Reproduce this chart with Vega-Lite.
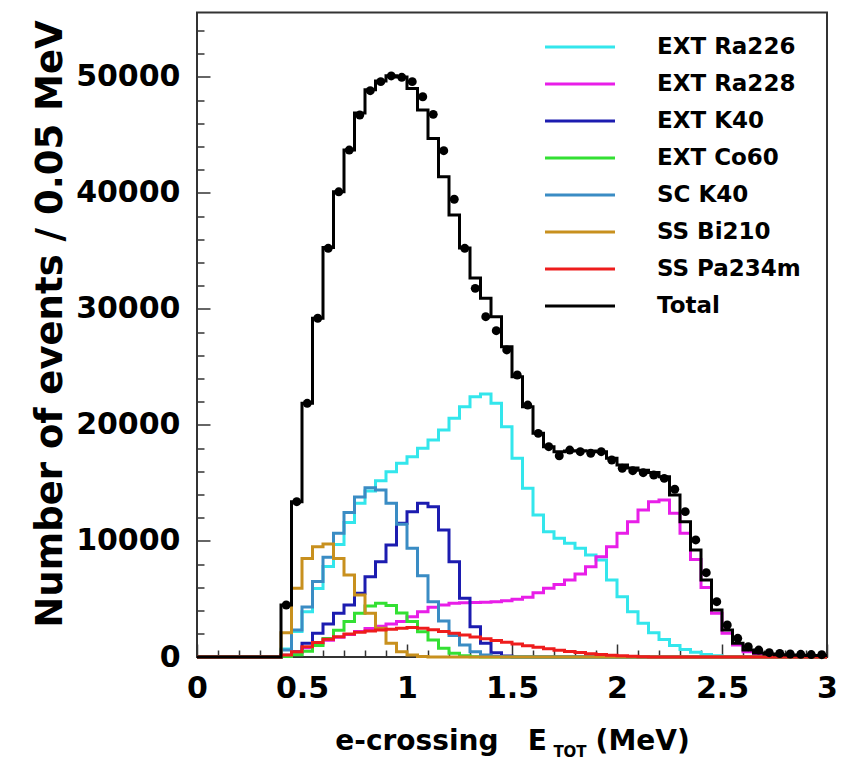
{
  "$schema": "https://vega.github.io/schema/vega-lite/v6.json",
  "width": 630,
  "height": 644.5,
  "autosize": {"type": "none"},
  "padding": {"left": 197, "top": 12.5, "right": 24, "bottom": 104},
  "background": "white",
  "config": {"view": {"stroke": "#333", "strokeWidth": 2}, "font": "DejaVu Sans"},
  "title": {"text": "TOT", "orient": "bottom", "anchor": "middle", "font": "DejaVu Sans", "fontWeight": "bold", "fontSize": 15, "color": "black", "dx": 58, "dy": -10, "offset": 0},
  "datasets": {
    "hist": [
      {"E":0.00,"EXT Ra226":0,"EXT Ra228":0,"EXT K40":0,"EXT Co60":0,"SC K40":0,"SS Bi210":0,"SS Pa234m":0,"Total":0},
      {"E":0.05,"EXT Ra226":0,"EXT Ra228":0,"EXT K40":0,"EXT Co60":0,"SC K40":0,"SS Bi210":0,"SS Pa234m":0,"Total":0},
      {"E":0.10,"EXT Ra226":0,"EXT Ra228":0,"EXT K40":0,"EXT Co60":0,"SC K40":0,"SS Bi210":0,"SS Pa234m":0,"Total":0},
      {"E":0.15,"EXT Ra226":0,"EXT Ra228":0,"EXT K40":0,"EXT Co60":0,"SC K40":0,"SS Bi210":0,"SS Pa234m":0,"Total":0},
      {"E":0.20,"EXT Ra226":0,"EXT Ra228":0,"EXT K40":0,"EXT Co60":0,"SC K40":0,"SS Bi210":0,"SS Pa234m":0,"Total":0},
      {"E":0.25,"EXT Ra226":0,"EXT Ra228":0,"EXT K40":0,"EXT Co60":0,"SC K40":0,"SS Bi210":0,"SS Pa234m":0,"Total":0},
      {"E":0.30,"EXT Ra226":0,"EXT Ra228":0,"EXT K40":0,"EXT Co60":0,"SC K40":0,"SS Bi210":0,"SS Pa234m":0,"Total":0},
      {"E":0.35,"EXT Ra226":0,"EXT Ra228":0,"EXT K40":0,"EXT Co60":0,"SC K40":0,"SS Bi210":0,"SS Pa234m":0,"Total":0},
      {"E":0.40,"EXT Ra226":700,"EXT Ra228":100,"EXT K40":150,"EXT Co60":50,"SC K40":600,"SS Bi210":2100,"SS Pa234m":170,"Total":4480},
      {"E":0.45,"EXT Ra226":2200,"EXT Ra228":400,"EXT K40":460,"EXT Co60":200,"SC K40":2330,"SS Bi210":5920,"SS Pa234m":460,"Total":13390},
      {"E":0.50,"EXT Ra226":3900,"EXT Ra228":800,"EXT K40":1180,"EXT Co60":500,"SC K40":4300,"SS Bi210":8500,"SS Pa234m":890,"Total":21870},
      {"E":0.55,"EXT Ra226":5900,"EXT Ra228":1150,"EXT K40":2040,"EXT Co60":1000,"SC K40":6500,"SS Bi210":9510,"SS Pa234m":1240,"Total":29200},
      {"E":0.60,"EXT Ra226":7800,"EXT Ra228":1450,"EXT K40":2840,"EXT Co60":1600,"SC K40":8600,"SS Bi210":9740,"SS Pa234m":1530,"Total":35300},
      {"E":0.65,"EXT Ra226":9700,"EXT Ra228":1700,"EXT K40":3770,"EXT Co60":2300,"SC K40":10660,"SS Bi210":8500,"SS Pa234m":1750,"Total":40100},
      {"E":0.70,"EXT Ra226":11600,"EXT Ra228":1950,"EXT K40":4480,"EXT Co60":3050,"SC K40":12450,"SS Bi210":7070,"SS Pa234m":1980,"Total":43700},
      {"E":0.75,"EXT Ra226":13250,"EXT Ra228":2200,"EXT K40":5490,"EXT Co60":3770,"SC K40":13800,"SS Bi210":5340,"SS Pa234m":2130,"Total":46900},
      {"E":0.80,"EXT Ra226":14300,"EXT Ra228":2450,"EXT K40":6920,"EXT Co60":4400,"SC K40":14600,"SS Bi210":3770,"SS Pa234m":2240,"Total":48900},
      {"E":0.85,"EXT Ra226":15200,"EXT Ra228":2650,"EXT K40":8220,"EXT Co60":4630,"SC K40":14400,"SS Bi210":2470,"SS Pa234m":2330,"Total":49650},
      {"E":0.90,"EXT Ra226":15970,"EXT Ra228":2850,"EXT K40":9660,"EXT Co60":4450,"SC K40":13250,"SS Bi210":1180,"SS Pa234m":2390,"Total":50100},
      {"E":0.95,"EXT Ra226":16700,"EXT Ra228":3050,"EXT K40":11520,"EXT Co60":3800,"SC K40":11450,"SS Bi210":460,"SS Pa234m":2470,"Total":50000},
      {"E":1.00,"EXT Ra226":17270,"EXT Ra228":3480,"EXT K40":12530,"EXT Co60":3050,"SC K40":9370,"SS Bi210":170,"SS Pa234m":2550,"Total":49000},
      {"E":1.05,"EXT Ra226":17990,"EXT Ra228":3910,"EXT K40":13250,"EXT Co60":2180,"SC K40":7000,"SS Bi210":50,"SS Pa234m":2470,"Total":47150},
      {"E":1.10,"EXT Ra226":18710,"EXT Ra228":4280,"EXT K40":12960,"EXT Co60":1470,"SC K40":4770,"SS Bi210":0,"SS Pa234m":2350,"Total":44700},
      {"E":1.15,"EXT Ra226":19570,"EXT Ra228":4480,"EXT K40":10950,"EXT Co60":750,"SC K40":3100,"SS Bi210":0,"SS Pa234m":2200,"Total":41400},
      {"E":1.20,"EXT Ra226":20580,"EXT Ra228":4630,"EXT K40":8220,"EXT Co60":320,"SC K40":1850,"SS Bi210":0,"SS Pa234m":2050,"Total":38100},
      {"E":1.25,"EXT Ra226":21580,"EXT Ra228":4680,"EXT K40":5060,"EXT Co60":100,"SC K40":1030,"SS Bi210":0,"SS Pa234m":1900,"Total":35250},
      {"E":1.30,"EXT Ra226":22440,"EXT Ra228":4700,"EXT K40":2610,"EXT Co60":20,"SC K40":460,"SS Bi210":0,"SS Pa234m":1730,"Total":32670},
      {"E":1.35,"EXT Ra226":22670,"EXT Ra228":4720,"EXT K40":1180,"EXT Co60":0,"SC K40":170,"SS Bi210":0,"SS Pa234m":1570,"Total":30920},
      {"E":1.40,"EXT Ra226":21870,"EXT Ra228":4770,"EXT K40":370,"EXT Co60":0,"SC K40":50,"SS Bi210":0,"SS Pa234m":1420,"Total":29340},
      {"E":1.45,"EXT Ra226":19850,"EXT Ra228":4850,"EXT K40":80,"EXT Co60":0,"SC K40":0,"SS Bi210":0,"SS Pa234m":1270,"Total":26750},
      {"E":1.50,"EXT Ra226":17130,"EXT Ra228":4970,"EXT K40":0,"EXT Co60":0,"SC K40":0,"SS Bi210":0,"SS Pa234m":1120,"Total":24160},
      {"E":1.55,"EXT Ra226":14540,"EXT Ra228":5150,"EXT K40":0,"EXT Co60":0,"SC K40":0,"SS Bi210":0,"SS Pa234m":980,"Total":21580},
      {"E":1.60,"EXT Ra226":12240,"EXT Ra228":5540,"EXT K40":0,"EXT Co60":0,"SC K40":0,"SS Bi210":0,"SS Pa234m":840,"Total":19280},
      {"E":1.65,"EXT Ra226":10800,"EXT Ra228":5920,"EXT K40":0,"EXT Co60":0,"SC K40":0,"SS Bi210":0,"SS Pa234m":710,"Total":18130},
      {"E":1.70,"EXT Ra226":10230,"EXT Ra228":6260,"EXT K40":0,"EXT Co60":0,"SC K40":0,"SS Bi210":0,"SS Pa234m":590,"Total":17700},
      {"E":1.75,"EXT Ra226":9800,"EXT Ra228":6640,"EXT K40":0,"EXT Co60":0,"SC K40":0,"SS Bi210":0,"SS Pa234m":480,"Total":17750},
      {"E":1.80,"EXT Ra226":9370,"EXT Ra228":7160,"EXT K40":0,"EXT Co60":0,"SC K40":0,"SS Bi210":0,"SS Pa234m":380,"Total":17780},
      {"E":1.85,"EXT Ra226":8790,"EXT Ra228":7780,"EXT K40":0,"EXT Co60":0,"SC K40":0,"SS Bi210":0,"SS Pa234m":290,"Total":17750},
      {"E":1.90,"EXT Ra226":8360,"EXT Ra228":8650,"EXT K40":0,"EXT Co60":0,"SC K40":0,"SS Bi210":0,"SS Pa234m":210,"Total":17700},
      {"E":1.95,"EXT Ra226":6640,"EXT Ra228":9510,"EXT K40":0,"EXT Co60":0,"SC K40":0,"SS Bi210":0,"SS Pa234m":150,"Total":17130},
      {"E":2.00,"EXT Ra226":5200,"EXT Ra228":10660,"EXT K40":0,"EXT Co60":0,"SC K40":0,"SS Bi210":0,"SS Pa234m":100,"Total":16550},
      {"E":2.05,"EXT Ra226":3910,"EXT Ra228":11670,"EXT K40":0,"EXT Co60":0,"SC K40":0,"SS Bi210":0,"SS Pa234m":60,"Total":16300},
      {"E":2.10,"EXT Ra226":2900,"EXT Ra228":12670,"EXT K40":0,"EXT Co60":0,"SC K40":0,"SS Bi210":0,"SS Pa234m":30,"Total":16100},
      {"E":2.15,"EXT Ra226":2100,"EXT Ra228":13390,"EXT K40":0,"EXT Co60":0,"SC K40":0,"SS Bi210":0,"SS Pa234m":10,"Total":15900},
      {"E":2.20,"EXT Ra226":1500,"EXT Ra228":13530,"EXT K40":0,"EXT Co60":0,"SC K40":0,"SS Bi210":0,"SS Pa234m":0,"Total":15540},
      {"E":2.25,"EXT Ra226":1000,"EXT Ra228":12390,"EXT K40":0,"EXT Co60":0,"SC K40":0,"SS Bi210":0,"SS Pa234m":0,"Total":13970},
      {"E":2.30,"EXT Ra226":650,"EXT Ra228":10660,"EXT K40":0,"EXT Co60":0,"SC K40":0,"SS Bi210":0,"SS Pa234m":0,"Total":11660},
      {"E":2.35,"EXT Ra226":400,"EXT Ra228":8400,"EXT K40":0,"EXT Co60":0,"SC K40":0,"SS Bi210":0,"SS Pa234m":0,"Total":9220},
      {"E":2.40,"EXT Ra226":220,"EXT Ra228":6000,"EXT K40":0,"EXT Co60":0,"SC K40":0,"SS Bi210":0,"SS Pa234m":0,"Total":6640},
      {"E":2.45,"EXT Ra226":100,"EXT Ra228":3770,"EXT K40":0,"EXT Co60":0,"SC K40":0,"SS Bi210":0,"SS Pa234m":0,"Total":4050},
      {"E":2.50,"EXT Ra226":30,"EXT Ra228":2040,"EXT K40":0,"EXT Co60":0,"SC K40":0,"SS Bi210":0,"SS Pa234m":0,"Total":2330},
      {"E":2.55,"EXT Ra226":0,"EXT Ra228":1030,"EXT K40":0,"EXT Co60":0,"SC K40":0,"SS Bi210":0,"SS Pa234m":0,"Total":1180},
      {"E":2.60,"EXT Ra226":0,"EXT Ra228":460,"EXT K40":0,"EXT Co60":0,"SC K40":0,"SS Bi210":0,"SS Pa234m":0,"Total":600},
      {"E":2.65,"EXT Ra226":0,"EXT Ra228":150,"EXT K40":0,"EXT Co60":0,"SC K40":0,"SS Bi210":0,"SS Pa234m":0,"Total":350},
      {"E":2.70,"EXT Ra226":0,"EXT Ra228":40,"EXT K40":0,"EXT Co60":0,"SC K40":0,"SS Bi210":0,"SS Pa234m":0,"Total":250},
      {"E":2.75,"EXT Ra226":0,"EXT Ra228":0,"EXT K40":0,"EXT Co60":0,"SC K40":0,"SS Bi210":0,"SS Pa234m":0,"Total":200},
      {"E":2.80,"EXT Ra226":0,"EXT Ra228":0,"EXT K40":0,"EXT Co60":0,"SC K40":0,"SS Bi210":0,"SS Pa234m":0,"Total":170},
      {"E":2.85,"EXT Ra226":0,"EXT Ra228":0,"EXT K40":0,"EXT Co60":0,"SC K40":0,"SS Bi210":0,"SS Pa234m":0,"Total":150},
      {"E":2.90,"EXT Ra226":0,"EXT Ra228":0,"EXT K40":0,"EXT Co60":0,"SC K40":0,"SS Bi210":0,"SS Pa234m":0,"Total":130},
      {"E":2.95,"EXT Ra226":0,"EXT Ra228":0,"EXT K40":0,"EXT Co60":0,"SC K40":0,"SS Bi210":0,"SS Pa234m":0,"Total":120},
      {"E":3.00,"EXT Ra226":0,"EXT Ra228":0,"EXT K40":0,"EXT Co60":0,"SC K40":0,"SS Bi210":0,"SS Pa234m":0,"Total":120}
    ],
    "dots": [
      {"E":0.425,"n":4480},{"E":0.475,"n":13390},{"E":0.525,"n":21870},{"E":0.575,"n":29200},
      {"E":0.625,"n":35230},{"E":0.675,"n":40100},{"E":0.725,"n":43700},{"E":0.775,"n":46720},
      {"E":0.825,"n":48820},{"E":0.875,"n":49600},{"E":0.925,"n":50090},{"E":0.975,"n":49970},
      {"E":1.025,"n":49600},{"E":1.075,"n":48300},{"E":1.125,"n":46780},{"E":1.175,"n":43650},
      {"E":1.225,"n":39460},{"E":1.275,"n":35230},{"E":1.325,"n":31780},{"E":1.375,"n":29340},
      {"E":1.425,"n":28130},{"E":1.475,"n":26470},{"E":1.525,"n":24310},{"E":1.575,"n":21720},
      {"E":1.625,"n":19280},{"E":1.675,"n":18130},{"E":1.725,"n":17350},{"E":1.775,"n":17840},
      {"E":1.825,"n":17700},{"E":1.875,"n":17560},{"E":1.925,"n":17700},{"E":1.975,"n":16980},
      {"E":2.025,"n":16270},{"E":2.075,"n":16060},{"E":2.125,"n":15890},{"E":2.175,"n":15690},
      {"E":2.225,"n":15400},{"E":2.275,"n":14460},{"E":2.325,"n":12530},{"E":2.375,"n":10090},
      {"E":2.425,"n":7270},{"E":2.475,"n":4770},{"E":2.525,"n":2760},{"E":2.575,"n":1610},
      {"E":2.625,"n":890},{"E":2.675,"n":600},{"E":2.725,"n":370},{"E":2.775,"n":300},
      {"E":2.825,"n":260},{"E":2.875,"n":230},{"E":2.925,"n":210},{"E":2.975,"n":200}
    ]
  },
  "layer": [
    {
      "data": {"name": "hist"},
      "transform": [{"fold": ["EXT Ra226","EXT Ra228","EXT K40","EXT Co60","SC K40","SS Bi210","SS Pa234m","Total"], "as": ["series","n"]}],
      "mark": {"type": "line", "interpolate": "step-after", "strokeWidth": 3},
      "encoding": {
        "x": {"field": "E", "type": "quantitative",
          "scale": {"domain": [0, 3], "nice": false, "zero": false},
          "axis": {"orient": "bottom", "values": [0,0.5,1,1.5,2,2.5,3], "format": "~g", "labelFlush": false, "labelOverlap": false, "labelBound": false,
            "tickSize": -13, "tickWidth": 1.5, "tickColor": "#333", "labelPadding": 29, "domain": false, "grid": false,
            "labelFont": "DejaVu Sans", "labelFontWeight": "bold", "labelFontSize": 30, "labelColor": "black",
            "title": "e-crossing\u00a0\u00a0\u00a0E\u00a0\u00a0\u00a0\u00a0\u00a0(MeV)", "titleFont": "DejaVu Sans", "titleFontWeight": "bold", "titleFontSize": 28, "titleColor": "black", "titlePadding": 24}},
        "y": {"field": "n", "type": "quantitative",
          "scale": {"domain": [0, 55560], "nice": false},
          "axis": {"orient": "left", "values": [0,10000,20000,30000,40000,50000], "format": "d", "labelOverlap": false, "labelBound": false,
            "tickSize": -13, "tickWidth": 1.5, "tickColor": "#333", "labelPadding": 30, "domain": false, "grid": false,
            "labelFont": "DejaVu Sans", "labelFontWeight": "bold", "labelFontSize": 30, "labelColor": "black",
            "title": "Number of events / 0.05 MeV", "titleFont": "DejaVu Sans", "titleFontWeight": "bold", "titleFontSize": 37, "titleColor": "black", "titlePadding": 6, "titleY": 311}},
        "color": {"field": "series", "type": "nominal",
          "scale": {"domain": ["EXT Ra226","EXT Ra228","EXT K40","EXT Co60","SC K40","SS Bi210","SS Pa234m","Total"],
                    "range": ["#33e6ec","#e81ee8","#1c1cb0","#33e033","#3a8cc4","#c8901e","#ee1c1c","#000000"]},
          "legend": {"orient": "none", "legendX": 397.75, "legendY": 23, "title": null, "padding": 0,
            "symbolType": "M-7,0H1", "symbolSize": 306.25, "symbolStrokeWidth": 3, "labelOffset": 39.25, "rowPadding": 13,
            "labelFont": "DejaVu Sans", "labelFontWeight": "bold", "labelFontSize": 23, "labelColor": "black", "labelLimit": 0}}
      }
    },
    {
      "data": {"name": "dots"},
      "mark": {"type": "circle", "size": 80, "color": "black", "opacity": 1},
      "encoding": {
        "x": {"field": "E", "type": "quantitative",
          "axis": {"orient": "bottom", "values": [0.1,0.2,0.3,0.4,0.6,0.7,0.8,0.9,1.1,1.2,1.3,1.4,1.6,1.7,1.8,1.9,2.1,2.2,2.3,2.4,2.6,2.7,2.8,2.9],
            "labels": false, "domain": false, "grid": false, "title": null, "tickSize": -7, "tickWidth": 1.5, "tickColor": "#333"}},
        "y": {"field": "n", "type": "quantitative",
          "axis": {"orient": "left", "values": [2000,4000,6000,8000,12000,14000,16000,18000,22000,24000,26000,28000,32000,34000,36000,38000,42000,44000,46000,48000,52000,54000],
            "labels": false, "domain": false, "grid": false, "title": null, "tickSize": -7, "tickWidth": 1.5, "tickColor": "#333"}}
      }
    }
  ],
  "resolve": {"axis": {"x": "independent", "y": "independent"}}
}
